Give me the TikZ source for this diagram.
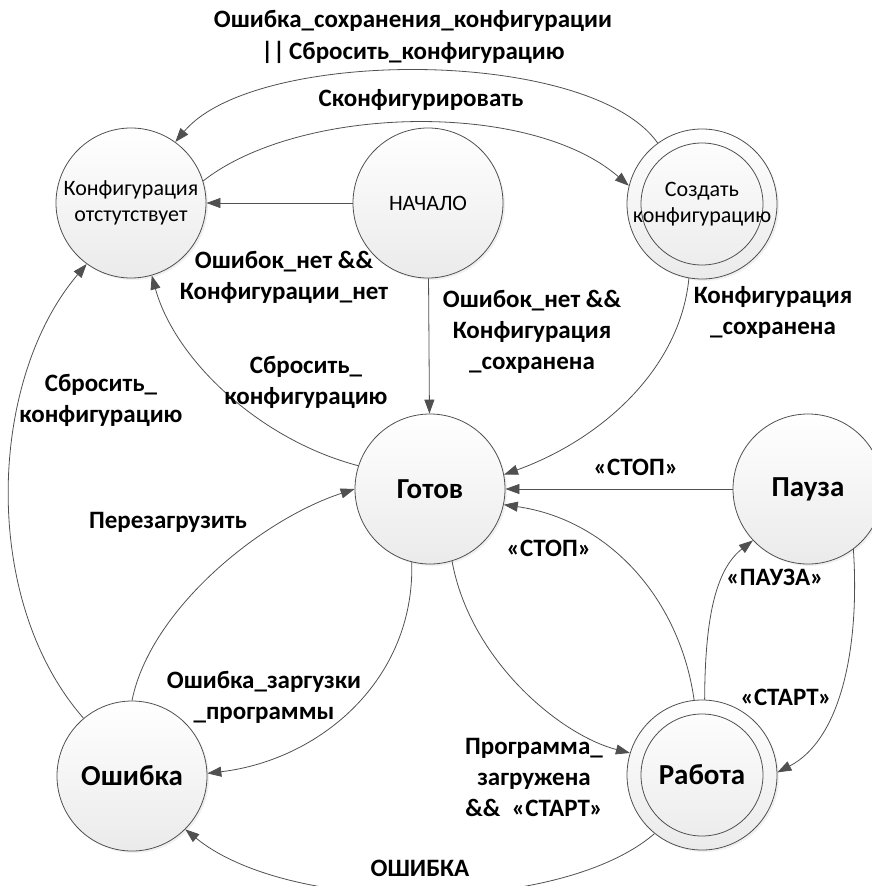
\documentclass[tikz,border=0pt]{standalone}
\usepackage{fontspec}
\setmainfont{Carlito}
\usetikzlibrary{arrows.meta,shadows}
\definecolor{edgegray}{HTML}{505050}
\begin{document}
\begin{tikzpicture}[x=1pt,y=-1pt,
  state/.style={circle,draw=edgegray,line width=0.8pt,minimum size=150pt,inner sep=0pt,
    top color=white,bottom color=black!8,
    drop shadow={opacity=0.12,shadow xshift=2pt,shadow yshift=-2pt}},
  ring/.style={circle,draw=edgegray,line width=0.8pt,minimum size=122pt,inner sep=0pt},
  bigtext/.style={font=\fontsize{29}{32}\selectfont\bfseries},
  smalltext/.style={font=\fontsize{22}{26.5}\selectfont,align=center,inner sep=0pt},
  lbl/.style={font=\fontsize{25}{31}\selectfont\bfseries,align=center,inner sep=0pt},
  arr/.style={draw=edgegray,line width=0.8pt,-{Triangle[length=14pt,width=10pt]}}]
\useasboundingbox (0,0) rectangle (872,886);
\clip (0,0) rectangle (872,886);

% states
\node[state,smalltext] (konf) at (131,203) {Конфигурация\\отстутствует};
\node[state,smalltext] (nach) at (428,203) {НАЧАЛО};
\node[state] (sozd) at (702,204) {};
\node[ring,label={[smalltext]center:Создать\\конфигурацию}] (sozdin) at (702,204) {};
\node[state,bigtext] (gotov) at (430,489) {Готов};
\node[state,bigtext] (pauza) at (808,489) {Пауза};
\node[state,bigtext] (osh) at (132,776) {Ошибка};
\node[state] (rab) at (702,775) {};
\node[ring,label={[bigtext]center:Работа}] (rabin) at (702,775) {};

% transitions
\draw[arr] (nach) -- (konf);
\draw[arr] (nach) -- (gotov);
\draw[arr] (pauza) -- (gotov);
\draw[arr] (konf.17) .. controls (300,105) and (530,100) .. (sozd.166);
\draw[arr] (sozd.126) .. controls (590,47) and (255,47) .. (konf.54);
\draw[arr] (sozd.260) .. controls (680,370) and (600,440) .. (gotov.11);
\draw[arr] (gotov.162) .. controls (260,440) and (175,360) .. (konf.286);
\draw[arr] (osh.130) .. controls (-20,600) and (-12,380) .. (konf.234);
\draw[arr] (osh.90) .. controls (150,610) and (260,520) .. (gotov.180);
\draw[arr] (gotov.256) .. controls (415,680) and (320,760) .. (osh.2);
\draw[arr] (gotov.287) .. controls (470,660) and (560,735) .. (rab.163);
\draw[arr] (rab.96) .. controls (680,600) and (610,520) .. (gotov.348);
\draw[arr] (rab.88) .. controls (705,620) and (715,570) .. (pauza.223);
\draw[arr] (pauza.307) .. controls (860,650) and (840,740) .. (rab.2);
\draw[arr] (rab.231) .. controls (560,915) and (290,915) .. (osh.315);

% transition labels
\node[lbl,font=\fontsize{25}{32}\selectfont\bfseries] (l1) at (413,37) {Ошибка\_сохранения\_конфигурации\\||\,Сбросить\_конфигурацию};
\node[lbl] (l2) at (421,100) {Сконфигурировать};
\node[lbl] (l3) at (284,277) {Ошибок\_нет \&\&\\Конфигурации\_нет};
\node[lbl] (l4) at (532,332) {Ошибок\_нет \&\&\\Конфигурация\\\_сохранена};
\node[lbl] (l5) at (773,312) {Конфигурация\\\_сохранена};
\node[lbl] (l6) at (306,382) {Сбросить\_\\конфигурацию};
\node[lbl] (l7) at (101,400) {Сбросить\_\\конфигурацию};
\node[lbl] (l8) at (168,522) {Перезагрузить};
\node[lbl] (l9) at (636,467) {«СТОП»};
\node[lbl] (l10) at (549,548) {«СТОП»};
\node[lbl] (l11) at (775,577) {«ПАУЗА»};
\node[lbl] (l12) at (786,697) {«СТАРТ»};
\node[lbl] (l13) at (264,697) {Ошибка\_заргузки\\\_программы};
\node[lbl] (l14) at (534,777) {Программа\_\\загружена\\\&\&~~«СТАРТ»};
\node[lbl] (l15) at (420,868) {ОШИБКА};
\end{tikzpicture}
\end{document}
